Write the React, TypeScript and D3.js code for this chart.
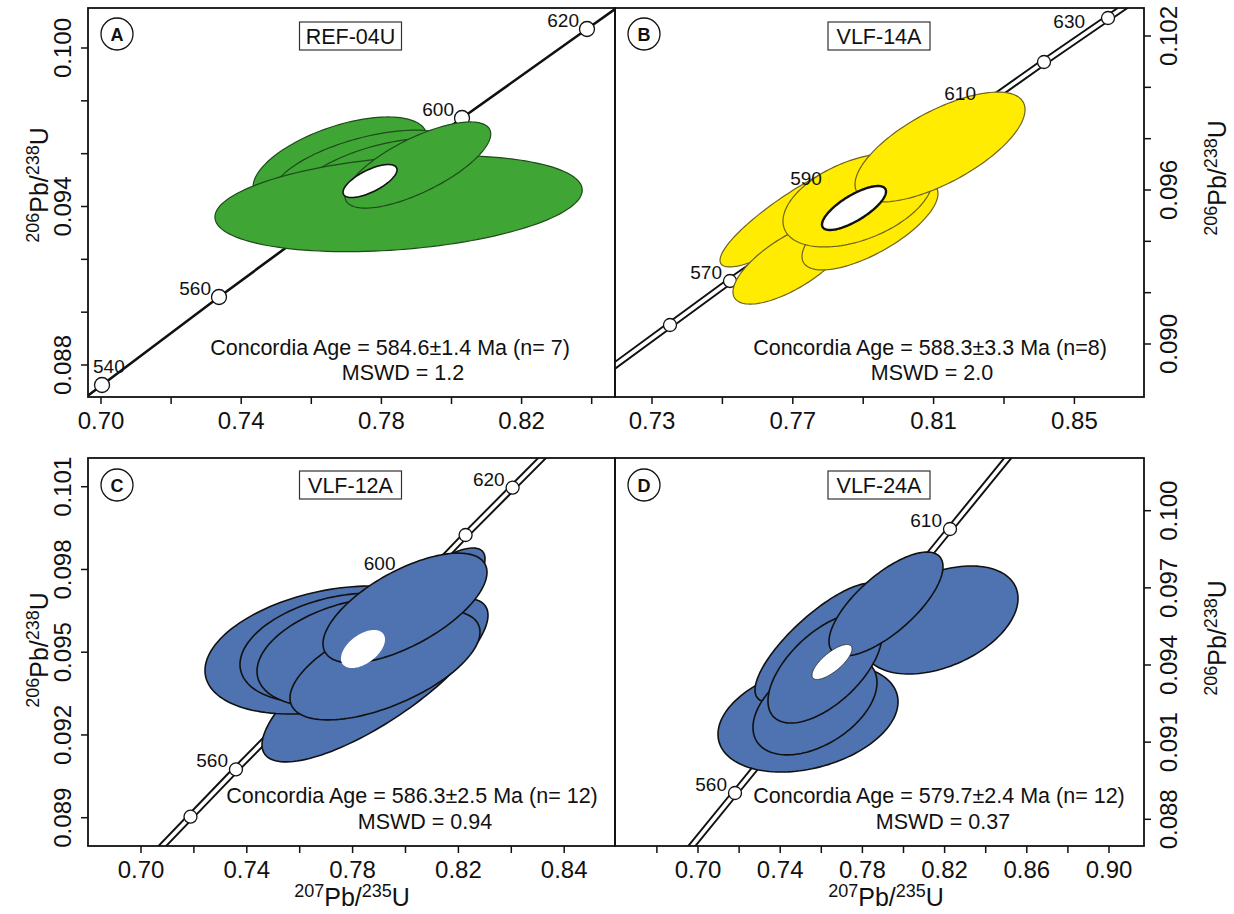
import React from "react";
import * as d3 from "d3";

const W = 1234;
const H = 914;
const FONT = "'Liberation Sans', Arial, Helvetica, sans-serif";

// ---------------- Panel A : REF-04U ----------------
const aXDomain = [0.69629, 0.84665];
const aYDomain = [0.086789, 0.101514];
const aXMajor = [0.70, 0.74, 0.78, 0.82];
const aXMajorLabels = ["0.70", "0.74", "0.78", "0.82"];
const aXMinor = [0.72, 0.76, 0.80, 0.84];
const aYMajor = [0.100, 0.094, 0.088];
const aYMajorLabels = ["0.100", "0.094", "0.088"];
const aYMinor = [0.098, 0.096, 0.092, 0.090];
const aConAge = [540, 560, 600, 620];
const aConX = [0.70029, 0.73367, 0.80300, 0.83866];
const aConY = [0.087243, 0.090574, 0.097350, 0.100719];
const aConLabelled = [540, 560, 600, 620];
const aEllX = [0.7682, 0.7753, 0.7810, 0.7849, 0.7904];
const aEllSX = [0.0248, 0.0262, 0.0257, 0.0524, 0.0208];
const aEllY = [0.09569, 0.09538, 0.09508, 0.09411, 0.09557];
const aEllSY = [0.00170, 0.00151, 0.00151, 0.00182, 0.00163];
const aEllRho = [0.55, 0.55, 0.5, 0.28, 0.72];
const aMean = [0.77675, 0.00770, 0.094965, 0.000625, 0.68]; // x, sx, y, sy, rho

// ---------------- Panel B : VLF-14A ----------------
const bXDomain = [0.71949, 0.86977];
const bYDomain = [0.087935, 0.103091];
const bXMajor = [0.73, 0.77, 0.81, 0.85];
const bXMajorLabels = ["0.73", "0.77", "0.81", "0.85"];
const bXMinor = [0.75, 0.79, 0.83];
const bYMajor = [0.102, 0.096, 0.090];
const bYMajorLabels = ["0.102", "0.096", "0.090"];
const bYMinor = [0.100, 0.098, 0.094, 0.092];
const bConAge = [560, 570, 590, 610, 620, 630];
const bConX = [0.73511, 0.75216, 0.78791, 0.82346, 0.84136, 0.85955];
const bConY = [0.090740, 0.092455, 0.095843, 0.09925, 0.100987, 0.102701];
const bConLabelled = [570, 590, 610, 630];
const bEllX = [0.77205, 0.76977, 0.79193, 0.78852, 0.81182];
const bEllSX = [0.02273, 0.01676, 0.01932, 0.02131, 0.02415];
const bEllY = [0.095143, 0.093195, 0.094636, 0.095610, 0.097675];
const bEllSY = [0.00214, 0.00164, 0.00175, 0.00183, 0.00214];
const bEllRho = [0.88, 0.71, 0.70, 0.45, 0.68];
const bMean = [0.78739, 0.00909, 0.095299, 0.000857, 0.75];

// ---------------- Panel C : VLF-12A ----------------
const cXDomain = [0.67996, 0.87921];
const cYDomain = [0.087974, 0.102041];
const cXMajor = [0.70, 0.74, 0.78, 0.82, 0.86];
const cXMajorLabels = ["0.70", "0.74", "0.78", "0.82", "0.84"];
const cXMinor = [0.72, 0.76, 0.80, 0.84];
const cYMajor = [0.101, 0.098, 0.095, 0.092, 0.089];
const cYMajorLabels = ["0.101", "0.098", "0.095", "0.092", "0.089"];
const cYMinor: number[] = [];
const cConAge = [550, 560, 600, 610, 620];
const cConX = [0.71871, 0.73590, 0.80566, 0.82272, 0.84049];
const cConY = [0.089036, 0.09075, 0.09754, 0.099249, 0.100964];
const cConLabelled = [560, 600, 620];
const cEllX = [0.78847, 0.79981, 0.77146, 0.77524, 0.78091, 0.79225, 0.79981];
const cEllSX = [0.04272, 0.03025, 0.04726, 0.03781, 0.03705, 0.03592, 0.03100];
const cEllY = [0.093992, 0.096167, 0.095080, 0.095152, 0.095007, 0.094536, 0.096602];
const cEllSY = [0.00297, 0.00261, 0.00232, 0.00199, 0.00199, 0.00199, 0.00199];
const cEllRho = [0.79, 0.85, 0.32, 0.30, 0.35, 0.60, 0.65];
const cMean = [0.78393, 0.00832, 0.095116, 0.000689, 0.5];

// ---------------- Panel D : VLF-24A ----------------
const dXDomain = [0.65961, 0.91703];
const dYDomain = [0.086962, 0.102049];
const dXMajor = [0.70, 0.74, 0.78, 0.82, 0.86, 0.90];
const dXMajorLabels = ["0.70", "0.74", "0.78", "0.82", "0.86", "0.90"];
const dXMinor = [0.68, 0.72, 0.76, 0.80, 0.84, 0.88];
const dYMajor = [0.100, 0.097, 0.094, 0.091, 0.088];
const dYMajorLabels = ["0.100", "0.097", "0.094", "0.091", "0.088"];
const dYMinor: number[] = [];
const dConAge = [560, 610];
const dConX = [0.71800, 0.82263];
const dConY = [0.089023, 0.099288];
const dConLabelled = [560, 610];
const dEllX = [0.75353, 0.75888, 0.81776, 0.75693, 0.76180, 0.79148];
const dEllSX = [0.04380, 0.03114, 0.03796, 0.03017, 0.02774, 0.02774];
const dEllY = [0.091939, 0.094875, 0.095750, 0.092445, 0.093883, 0.096372];
const dEllSY = [0.00210, 0.00231, 0.00210, 0.00194, 0.00214, 0.00202];
const dEllRho = [0.30, 0.80, 0.40, 0.45, 0.60, 0.72];
const dMean = [0.76521, 0.00973, 0.094117, 0.000680, 0.75];

// ---------------- Texts ----------------
const panelLetters = ["A", "B", "C", "D"];
const sampleNames = ["REF-04U", "VLF-14A", "VLF-12A", "VLF-24A"];
const ageTexts = [
  "Concordia Age = 584.6±1.4 Ma (n= 7)",
  "Concordia Age = 588.3±3.3 Ma (n=8)",
  "Concordia Age = 586.3±2.5 Ma (n= 12)",
  "Concordia Age = 579.7±2.4 Ma (n= 12)",
];
const mswdTexts = ["MSWD = 1.2", "MSWD = 2.0", "MSWD = 0.94", "MSWD = 0.37"];

type Ell = { x: number; sx: number; y: number; sy: number; rho: number };
const toEll = (X: number[], SX: number[], Y: number[], SY: number[], R: number[]): Ell[] =>
  X.map((x, i) => ({ x, sx: SX[i], y: Y[i], sy: SY[i], rho: R[i] }));
const meanEll = (m: number[]): Ell => ({ x: m[0], sx: m[1], y: m[2], sy: m[3], rho: m[4] });

// layout (pixels)
type Layout = {
  x0: number; x1: number; y0: number; y1: number; right: boolean; xTitle: boolean;
  ageCx: number; ageY: number; mswdCx: number; mswdY: number; titleY: number; xTitleX: number;
  letter: number[]; box: number[]; labelShift: Record<number, number[]>;
};
const layouts: Layout[] = [
  { x0: 88, x1: 615, y0: 8, y1: 397, right: false, xTitle: false, ageCx: 390, ageY: 355, mswdCx: 403, mswdY: 380, titleY: 185, xTitleX: 0, letter: [117, 34], box: [350.5, 36], labelShift: {} },
  { x0: 615, x1: 1144, y0: 8, y1: 397, right: true, xTitle: false, ageCx: 930, ageY: 355, mswdCx: 932, mswdY: 380, titleY: 178, xTitleX: 0, letter: [644, 34], box: [879, 36], labelShift: { 590: [-34, -9], 610: [-5, -7] } },
  { x0: 88, x1: 615, y0: 458, y1: 846, right: false, xTitle: true, ageCx: 412, ageY: 803, mswdCx: 425, mswdY: 829, titleY: 650, xTitleX: 352, letter: [117, 485], box: [350.5, 485], labelShift: { 600: [-25, -12] } },
  { x0: 615, x1: 1144, y0: 458, y1: 846, right: true, xTitle: true, ageCx: 939, ageY: 803, mswdCx: 943, mswdY: 829, titleY: 638, xTitleX: 886, letter: [644, 485], box: [879, 485], labelShift: {} },
];

const styles = [
  { fill: "#3fa535", stroke: "#1f4a1b", sw: 1.2, meanStroke: "#111", meanSw: 1.6, double: false, r: 7.5 },
  { fill: "#ffec00", stroke: "#6e6220", sw: 1.2, meanStroke: "#111", meanSw: 2.4, double: true, r: 6.5 },
  { fill: "#4f72b0", stroke: "#111", sw: 1.6, meanStroke: "none", meanSw: 0, double: true, r: 6.5 },
  { fill: "#4f72b0", stroke: "#111", sw: 1.6, meanStroke: "#222", meanSw: 0.8, double: true, r: 6.5 },
];

const panels = [
  { xDomain: aXDomain, yDomain: aYDomain, xMajor: aXMajor, xLab: aXMajorLabels, xMinor: aXMinor, yMajor: aYMajor, yLab: aYMajorLabels, yMinor: aYMinor, conAge: aConAge, conX: aConX, conY: aConY, conLab: aConLabelled, ells: toEll(aEllX, aEllSX, aEllY, aEllSY, aEllRho), mean: meanEll(aMean) },
  { xDomain: bXDomain, yDomain: bYDomain, xMajor: bXMajor, xLab: bXMajorLabels, xMinor: bXMinor, yMajor: bYMajor, yLab: bYMajorLabels, yMinor: bYMinor, conAge: bConAge, conX: bConX, conY: bConY, conLab: bConLabelled, ells: toEll(bEllX, bEllSX, bEllY, bEllSY, bEllRho), mean: meanEll(bMean) },
  { xDomain: cXDomain, yDomain: cYDomain, xMajor: cXMajor, xLab: cXMajorLabels, xMinor: cXMinor, yMajor: cYMajor, yLab: cYMajorLabels, yMinor: cYMinor, conAge: cConAge, conX: cConX, conY: cConY, conLab: cConLabelled, ells: toEll(cEllX, cEllSX, cEllY, cEllSY, cEllRho), mean: meanEll(cMean) },
  { xDomain: dXDomain, yDomain: dYDomain, xMajor: dXMajor, xLab: dXMajorLabels, xMinor: dXMinor, yMajor: dYMajor, yLab: dYMajorLabels, yMinor: dYMinor, conAge: dConAge, conX: dConX, conY: dConY, conLab: dConLabelled, ells: toEll(dEllX, dEllSX, dEllY, dEllSY, dEllRho), mean: meanEll(dMean) },
];

function ellipsePath(e: Ell, xs: d3.ScaleLinear<number, number>, ys: d3.ScaleLinear<number, number>) {
  const n = 140;
  const k = Math.sqrt(1 - e.rho * e.rho);
  const pts: [number, number][] = d3.range(n).map((i) => {
    const t = (i / n) * 2 * Math.PI;
    const c = Math.cos(t);
    const s = Math.sin(t);
    return [xs(e.x + e.sx * c), ys(e.y + e.sy * (e.rho * c + k * s))];
  });
  return d3.line().curve(d3.curveLinearClosed)(pts) || "";
}

function Ratio({ a, b, main, sup }: { a: string; b: string; main: number; sup: number }) {
  const up = sup * 0.5;
  return (
    <>
      <tspan fontSize={sup} dy={-up}>{a}</tspan>
      <tspan fontSize={main} dy={up}>Pb/</tspan>
      <tspan fontSize={sup} dy={-up}>{b}</tspan>
      <tspan fontSize={main} dy={up}>U</tspan>
    </>
  );
}

function Panel({ i }: { i: number }) {
  const p = panels[i];
  const L = layouts[i];
  const S = styles[i];
  const xs = d3.scaleLinear().domain(p.xDomain).range([L.x0, L.x1]);
  const ys = d3.scaleLinear().domain(p.yDomain).range([L.y1, L.y0]);
  const clipId = `clip-${i}`;

  const pts: [number, number][] = p.conX.map((x, j) => [xs(x), ys(p.conY[j])]);
  const ext = (a: [number, number], b: [number, number]): [number, number] => {
    const dx = a[0] - b[0];
    const dy = a[1] - b[1];
    const len = Math.hypot(dx, dy);
    return [a[0] + (dx / len) * 1500, a[1] + (dy / len) * 1500];
  };
  const n = pts.length;
  const full = [ext(pts[0], pts[1]), ...pts, ext(pts[n - 1], pts[n - 2])];
  const conPath = d3.line()(full) || "";

  const tickLen = 7;
  const yLabX = L.right ? L.x1 + 33 : L.x0 - 17;
  const yTitleX = L.right ? L.x1 + 82 : L.x0 - 40;

  return (
    <g>
      <defs>
        <clipPath id={clipId}>
          <rect x={L.x0} y={L.y0} width={L.x1 - L.x0} height={L.y1 - L.y0} />
        </clipPath>
      </defs>
      <g clipPath={`url(#${clipId})`}>
        {S.double ? (
          <>
            <path d={conPath} fill="none" stroke="#111" strokeWidth={7.5} />
            <path d={conPath} fill="none" stroke="#fff" strokeWidth={3.6} />
          </>
        ) : (
          <path d={conPath} fill="none" stroke="#111" strokeWidth={2.6} />
        )}
        {pts.map((pt, j) => (
          <circle key={j} cx={pt[0]} cy={pt[1]} r={S.r} fill="#fff" stroke="#111" strokeWidth={1.3} />
        ))}
        {p.ells.map((e, j) => (
          <path key={j} d={ellipsePath(e, xs, ys)} fill={S.fill} stroke={S.stroke} strokeWidth={S.sw} />
        ))}
        <path d={ellipsePath(p.mean, xs, ys)} fill="#fff" stroke={S.meanStroke} strokeWidth={S.meanSw} />
      </g>
      {p.conAge.map((age, j) => {
        if (p.conLab.indexOf(age) < 0) return null;
        const [px, py] = pts[j];
        const nearLeft = px - 44 < L.x0;
        const nearTop = py - 18 < L.y0;
        let x = px - 8;
        let y = py - 2;
        let anchor = "end";
        const shift = L.labelShift[age];
        if (shift) {
          x = px + shift[0];
          y = py + shift[1];
        } else if (nearLeft) {
          x = px - 9;
          y = py - 12;
          anchor = "start";
        } else if (nearTop) {
          x = px - 23;
          y = py + 10;
        }
        return (
          <text key={`l${j}`} x={x} y={y} textAnchor={anchor} fontSize={19} fontFamily={FONT} fill="#111">
            {age}
          </text>
        );
      })}
      {/* frame */}
      <rect x={L.x0} y={L.y0} width={L.x1 - L.x0} height={L.y1 - L.y0} fill="none" stroke="#111" strokeWidth={1.8} />
      {/* x ticks */}
      {[...p.xMajor, ...p.xMinor].map((v, j) => (
        <line key={`xt${j}`} x1={xs(v)} x2={xs(v)} y1={L.y1} y2={L.y1 + tickLen} stroke="#111" strokeWidth={1.5} />
      ))}
      {p.xMajor.map((v, j) => (
        <text key={`xl${j}`} x={xs(v)} y={L.y1 + 32} textAnchor="middle" fontSize={24} fontFamily={FONT} fill="#111">
          {p.xLab[j]}
        </text>
      ))}
      {/* y ticks */}
      {[...p.yMajor, ...p.yMinor].map((v, j) => (
        <line
          key={`yt${j}`}
          x1={L.right ? L.x1 : L.x0}
          x2={L.right ? L.x1 + tickLen : L.x0 - tickLen}
          y1={ys(v)}
          y2={ys(v)}
          stroke="#111"
          strokeWidth={1.5}
        />
      ))}
      {p.yMajor.map((v, j) => (
        <text
          key={`yl${j}`}
          transform={`translate(${yLabX},${ys(v)}) rotate(-90)`}
          textAnchor="middle"
          fontSize={24}
          fontFamily={FONT}
          fill="#111"
        >
          {p.yLab[j]}
        </text>
      ))}
      {/* y title */}
      <text transform={`translate(${yTitleX},${L.titleY}) rotate(-90)`} textAnchor="middle" fontFamily={FONT} fill="#111">
        <Ratio a="206" b="238" main={25} sup={18} />
      </text>
      {L.xTitle && (
        <text x={L.xTitleX} y={906} textAnchor="middle" fontFamily={FONT} fill="#111">
          <Ratio a="207" b="235" main={25} sup={18} />
        </text>
      )}
      {/* panel letter */}
      <circle cx={L.letter[0]} cy={L.letter[1]} r={16} fill="#fff" stroke="#111" strokeWidth={1.3} />
      <text x={L.letter[0]} y={L.letter[1] + 6.5} textAnchor="middle" fontSize={18} fontWeight="bold" fontFamily={FONT} fill="#111">
        {panelLetters[i]}
      </text>
      {/* sample box */}
      <rect x={L.box[0] - 51} y={L.box[1] - 14} width={102} height={28} fill="#fff" stroke="#333" strokeWidth={1.2} />
      <text x={L.box[0]} y={L.box[1] + 8} textAnchor="middle" fontSize={21.5} fontFamily={FONT} fill="#111">
        {sampleNames[i]}
      </text>
      {/* age texts */}
      <text x={L.ageCx} y={L.ageY} textAnchor="middle" fontSize={21.5} fontFamily={FONT} fill="#111">
        {ageTexts[i]}
      </text>
      <text x={L.mswdCx} y={L.mswdY} textAnchor="middle" fontSize={21.5} fontFamily={FONT} fill="#111">
        {mswdTexts[i]}
      </text>
    </g>
  );
}

export default function App() {
  return (
    <svg
      width={W}
      height={H}
      viewBox={`0 0 ${W} ${H}`}
      style={{ position: "absolute", left: 0, top: 0, background: "#fff" }}
    >
      <rect x={0} y={0} width={W} height={H} fill="#fff" />
      {[0, 1, 2, 3].map((i) => (
        <Panel key={i} i={i} />
      ))}
    </svg>
  );
}
